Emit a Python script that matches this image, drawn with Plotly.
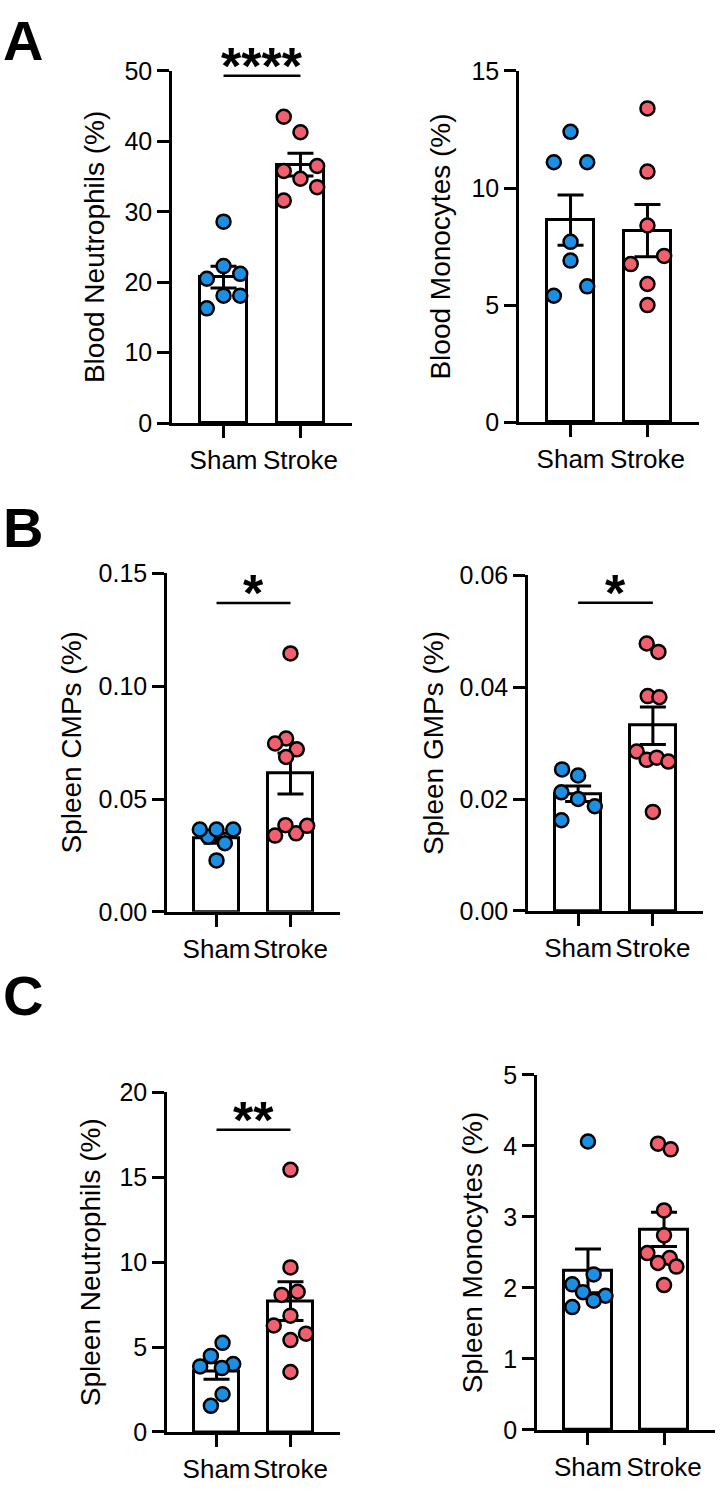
import plotly.graph_objects as go
import numpy as np

W, H = 722, 1495
FONT = "Liberation Sans, Arial, sans-serif"
BLUE = "#1A8FE3"
PINK = "#F2606F"

groups = ["Sham", "Stroke"]

# ---- data ----
blood_neut_sham = [28.6, 22.3, 20.5, 21.2, 18.1, 18.1, 16.3]
blood_neut_stroke = [43.5, 41.3, 36.5, 35.8, 34.7, 33.5, 31.6]
blood_mono_sham = [12.4, 11.1, 11.1, 7.7, 6.9, 5.4, 5.8]
blood_mono_stroke = [13.4, 10.7, 8.4, 6.75, 7.1, 5.9, 5.0]
spleen_cmp_sham = [0.0333, 0.0365, 0.0365, 0.0365, 0.0304, 0.0228]
spleen_cmp_stroke = [0.1145, 0.0768, 0.0746, 0.0720, 0.0686, 0.0348, 0.0384, 0.0381, 0.0338]
spleen_gmp_sham = [0.0253, 0.0242, 0.0212, 0.0200, 0.0187, 0.0162]
spleen_gmp_stroke = [0.0478, 0.0463, 0.0384, 0.0382, 0.0285, 0.0270, 0.0274, 0.0267, 0.0177]
spleen_neut_sham = [5.25, 4.48, 4.0, 3.86, 3.76, 2.22, 1.54]
spleen_neut_stroke = [15.44, 9.69, 8.26, 8.07, 6.85, 6.27, 5.79, 5.41, 3.53]
spleen_mono_sham = [4.06, 2.19, 2.05, 1.94, 1.89, 1.82, 1.73]
spleen_mono_stroke = [4.03, 3.95, 3.09, 2.74, 2.49, 2.42, 2.35, 2.30, 2.04]

# ---- horizontal scatter offsets, in marker-slot units (layout only) ----
blood_neut_sham_dx = [0, 0, -1, 1, 0, 1, -1]
blood_neut_stroke_dx = [-1, 0, 1, -1, 0, 1, -1]
blood_mono_sham_dx = [0, -1, 1, 0, 0, -1, 1]
blood_mono_stroke_dx = [0, 0, 0, -1, 1, 0, 0]
spleen_cmp_sham_dx = [-0.5, -1, 0, 1, 0.5, 0]
spleen_cmp_stroke_dx = [0, -0.26, -0.92, 0.38, -0.26, 0.34, -0.3, 1.0, -0.92]
spleen_gmp_sham_dx = [-0.96, 0, -1, 0, 1, -1]
spleen_gmp_stroke_dx = [-0.37, 0.33, -0.31, 0.39, -0.97, -0.37, 0.23, 0.93, 0]
spleen_neut_sham_dx = [0.36, -0.34, 1.0, -0.98, 0.32, 0.36, -0.34]
spleen_neut_stroke_dx = [0, 0, 0.43, -0.53, 0, -1.0, 0.93, 0, 0]
spleen_mono_sham_dx = [0, 0.34, -0.94, -0.3, 1.05, 0.34, -0.94]
spleen_mono_stroke_dx = [-0.36, 0.4, 0, 0, -1.0, 0.34, -0.36, 0.74, 0]

panels = [
    dict(title="Blood Neutrophils (%)", sham=blood_neut_sham, stroke=blood_neut_stroke,
         dxs=blood_neut_sham_dx, dxk=blood_neut_stroke_dx, yr=[0, 50], dtick=10, fmt="d",
         box=(172, 352, 58, 417), tx=94, sig="****", sigy=49.3),
    dict(title="Blood Monocytes (%)", sham=blood_mono_sham, stroke=blood_mono_stroke,
         dxs=blood_mono_sham_dx, dxk=blood_mono_stroke_dx, yr=[0, 15], dtick=5, fmt="d",
         box=(519, 699, 58, 416), tx=441, sig=None, sigy=None),
    dict(title="Spleen CMPs (%)", sham=spleen_cmp_sham, stroke=spleen_cmp_stroke,
         dxs=spleen_cmp_sham_dx, dxk=spleen_cmp_stroke_dx, yr=[0, 0.15], dtick=0.05, fmt=".2f",
         box=(167, 340, 570, 915), tx=72, sig="*", sigy=0.1368),
    dict(title="Spleen GMPs (%)", sham=spleen_gmp_sham, stroke=spleen_gmp_stroke,
         dxs=spleen_gmp_sham_dx, dxk=spleen_gmp_stroke_dx, yr=[0, 0.06], dtick=0.02, fmt=".2f",
         box=(528, 703, 572, 914), tx=433, sig="*", sigy=0.0551),
    dict(title="Spleen Neutrophils (%)", sham=spleen_neut_sham, stroke=spleen_neut_stroke,
         dxs=spleen_neut_sham_dx, dxk=spleen_neut_stroke_dx, yr=[0, 20], dtick=5, fmt="d",
         box=(167, 340, 1099, 1445), tx=90, sig="**", sigy=17.8),
    dict(title="Spleen Monocytes (%)", sham=spleen_mono_sham, stroke=spleen_mono_stroke,
         dxs=spleen_mono_sham_dx, dxk=spleen_mono_stroke_dx, yr=[0, 5], dtick=1, fmt="d",
         box=(537, 715, 1081, 1443), tx=472, sig=None, sigy=None),
]

XR = [-0.67, 1.67]
SLOT_PX = 16.7

fig = go.Figure()
annotations = []
shapes = []
layout_axes = {}

for i, p in enumerate(panels):
    n = i + 1
    xa = "x" if n == 1 else f"x{n}"
    ya = "y" if n == 1 else f"y{n}"
    xkey = "xaxis" if n == 1 else f"xaxis{n}"
    ykey = "yaxis" if n == 1 else f"yaxis{n}"
    x0, x1, y0, y1 = p["box"]
    spacing = (x1 - x0) / (XR[1] - XR[0])
    slot = SLOT_PX / spacing

    means = [float(np.mean(p["sham"])), float(np.mean(p["stroke"]))]
    sems = [float(np.std(p["sham"], ddof=1) / np.sqrt(len(p["sham"]))),
            float(np.std(p["stroke"], ddof=1) / np.sqrt(len(p["stroke"])))]

    fig.add_trace(go.Bar(
        x=[0, 1], y=means, width=0.62, xaxis=xa, yaxis=ya,
        marker=dict(color="white", line=dict(color="black", width=3)),
        error_y=dict(type="data", array=sems, color="black", thickness=3, width=13),
        hoverinfo="skip",
    ))
    for gi, (vals, dx, col) in enumerate([(p["sham"], p["dxs"], BLUE), (p["stroke"], p["dxk"], PINK)]):
        fig.add_trace(go.Scatter(
            x=[gi + d * slot for d in dx], y=vals, mode="markers", xaxis=xa, yaxis=ya,
            marker=dict(size=14, color=col, line=dict(color="black", width=2.5)),
            cliponaxis=False, hoverinfo="skip",
        ))

    layout_axes[xkey] = dict(
        domain=[x0 / W, x1 / W], range=XR, anchor=ya,
        tickmode="array", tickvals=[0, 1], ticktext=groups,
        showline=True, linecolor="black", linewidth=2.5,
        ticks="outside", ticklen=12, tickwidth=2.5, tickcolor="black",
        showgrid=False, zeroline=False,
        tickfont=dict(family=FONT, size=26, color="black"),
    )
    layout_axes[ykey] = dict(
        domain=[1 - y1 / H, 1 - y0 / H], range=p["yr"], anchor=xa,
        dtick=p["dtick"], tick0=0, tickformat=p["fmt"],
        showline=True, linecolor="black", linewidth=2.5,
        ticks="outside", ticklen=12, tickwidth=2.5, tickcolor="black",
        showgrid=False, zeroline=False,
        tickfont=dict(family=FONT, size=25, color="black"),
    )
    annotations.append(dict(
        text=p["title"], textangle=-90, xref="paper", yref="paper",
        x=p["tx"] / W, y=1 - (y0 + y1) / 2 / H, xanchor="center", yanchor="middle",
        showarrow=False, font=dict(family=FONT, size=28, color="black"),
    ))
    if p["sig"]:
        shapes.append(dict(type="line", xref=xa, yref=ya, x0=0, x1=1,
                           y0=p["sigy"], y1=p["sigy"], line=dict(color="black", width=2.5)))
        annotations.append(dict(
            text="<b>" + p["sig"] + "</b>", xref=xa, yref=ya, x=0.5, y=p["sigy"],
            xanchor="center", yanchor="middle", yshift=10, showarrow=False,
            font=dict(family=FONT, size=52, color="black"),
        ))

for letter, cy in [("A", 27), ("B", 523), ("C", 1000)]:
    annotations.append(dict(
        text="<b>" + letter + "</b>", xref="paper", yref="paper",
        x=23 / W, y=1 - cy / H, xanchor="center", yanchor="middle", showarrow=False,
        font=dict(family=FONT, size=56, color="black"),
    ))

fig.update_layout(
    width=W, height=H, margin=dict(l=0, r=0, t=0, b=0),
    paper_bgcolor="white", plot_bgcolor="white", showlegend=False,
    annotations=annotations, shapes=shapes, bargap=0,
    **layout_axes,
)

fig.write_html("out.html")
